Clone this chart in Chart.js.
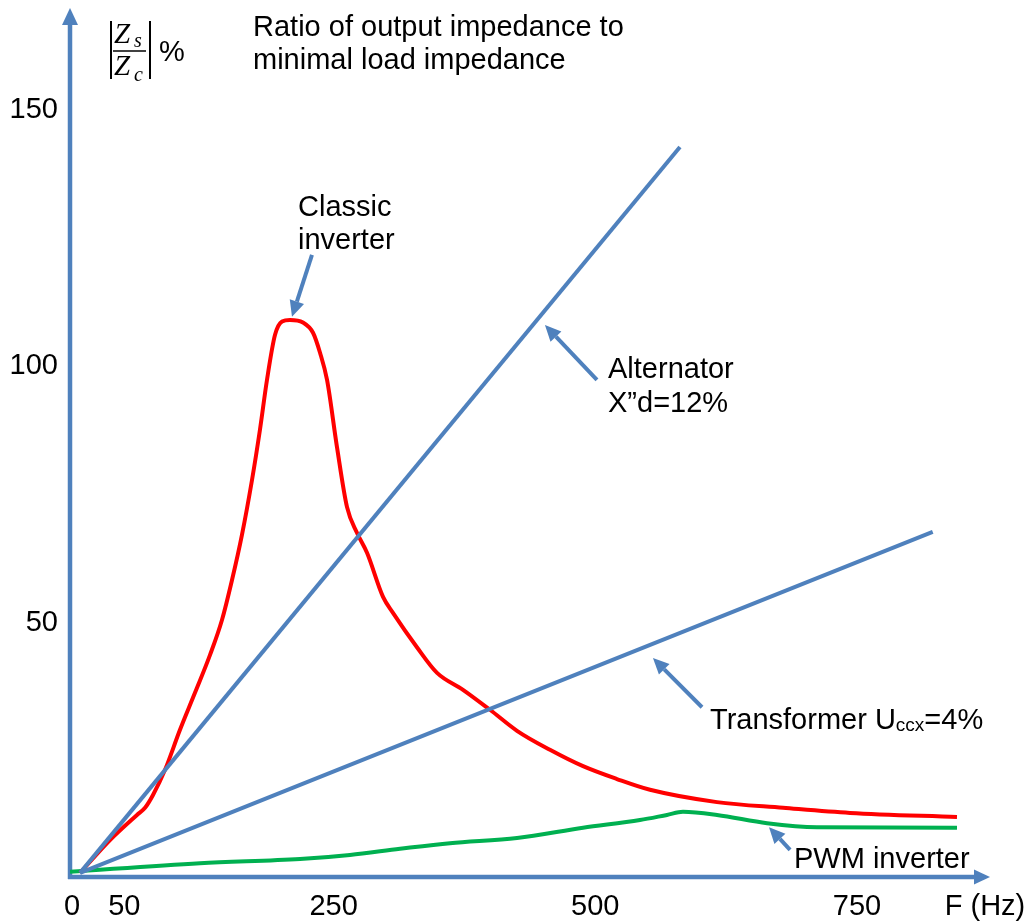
<!DOCTYPE html>
<html>
<head>
<meta charset="utf-8">
<script src="https://cdn.jsdelivr.net/npm/chart.js@4"></script>
<style>
	body { margin: 0; background: #ffffff; }
	#chart { display: block; }
</style>
</head>
<body>
<canvas id="chart" width="1027" height="922"></canvas>
<script>
// frequency (Hz) and |Zs/Zc| (%)
const freqTicks = [0, 50, 250, 500, 750];
const pctTicks = [50, 100, 150];

const classicF = [9.6, 38.2, 64.0, 71.7, 79.3, 90.8, 105.1, 119.4, 133.8, 145.2, 154.8, 164.3, 173.9, 181.5, 188.2, 195.9, 202.6, 210.2, 222.6, 232.2, 238.9, 245.6, 255.1, 264.7, 274.2, 283.8, 299.1, 308.6, 331.5, 350.7, 375.5, 401.3, 427.1, 458.6, 490.2, 522.6, 554.2, 618.2, 681.3, 745.3, 847.5];
const classicPct = [0.8, 7.2, 12.1, 13.5, 16.0, 20.9, 28.7, 35.9, 43.3, 50.1, 57.9, 66.7, 77.4, 87.2, 96.9, 105.7, 108.3, 108.6, 108.1, 106.1, 102.2, 96.9, 83.8, 72.1, 67.1, 63.2, 54.6, 51.5, 44.8, 39.8, 36.5, 32.6, 28.5, 24.8, 21.6, 19.1, 17.0, 14.6, 13.5, 12.5, 11.7];

const pwmF = [0, 124.2, 219.8, 267.5, 315.3, 363.1, 427.1, 490.2, 544.6, 570.4, 585.7, 618.2, 666.0, 713.7, 847.5];
const pwmPct = [1.0, 2.7, 3.5, 4.3, 5.5, 6.6, 7.6, 9.6, 11.1, 12.1, 12.7, 12.1, 10.5, 9.7, 9.6];

const alternatorF = [9.6, 582.8];
const alternatorPct = [0.8, 142.3];

const transformerF = [9.6, 824.3];
const transformerPct = [0.8, 67.3];

const blue = '#4F81BD';
const font = '"Liberation Sans", Arial, sans-serif';

const pts = (xs, ys) => xs.map((x, i) => ({x: x, y: ys[i]}));

// arrows: tail -> tip, in data units
const arrows = [
	{from: [231.2, 121.3], to: [212.1, 109.2]},
	{from: [503.5, 96.9], to: [453.8, 107.6]},
	{from: [603.9, 33.1], to: [557.0, 42.7]},
	{from: [688.0, 5.3], to: [667.9, 9.7]}
];

const drawArrow = (ctx, x1, y1, x2, y2, len, half, width) => {
	const a = Math.atan2(y2 - y1, x2 - x1);
	const bx = x2 - len * Math.cos(a);
	const by = y2 - len * Math.sin(a);
	ctx.lineWidth = width;
	ctx.beginPath();
	ctx.moveTo(x1, y1);
	ctx.lineTo(bx, by);
	ctx.stroke();
	ctx.beginPath();
	ctx.moveTo(x2, y2);
	ctx.lineTo(bx + half * Math.sin(a), by - half * Math.cos(a));
	ctx.lineTo(bx - half * Math.sin(a), by + half * Math.cos(a));
	ctx.closePath();
	ctx.fill();
}

const axesPlugin = {
	id: 'axes',
	beforeDatasetsDraw(chart) {
		const ctx = chart.ctx;
		const xs = chart.scales.x;
		const ys = chart.scales.y;
		const x0 = xs.getPixelForValue(0);
		const y0 = ys.getPixelForValue(0);
		ctx.save();
		ctx.strokeStyle = blue;
		ctx.fillStyle = blue;
		ctx.lineCap = 'butt';
		drawArrow(ctx, x0, y0 + 2, x0, chart.chartArea.top + 3, 17, 8, 4.5);
		drawArrow(ctx, x0 - 2, y0, chart.chartArea.right - 1, y0, 16, 7.5, 4.5);

		// tick labels
		ctx.fillStyle = '#000000';
		ctx.font = '29px ' + font;
		ctx.textAlign = 'center';
		ctx.textBaseline = 'alphabetic';
		freqTicks.forEach(f => ctx.fillText(String(f), xs.getPixelForValue(f) + 2, 915));
		ctx.fillText('F (Hz)', 985, 915);
		ctx.textAlign = 'right';
		pctTicks.forEach(p => ctx.fillText(String(p), 58, ys.getPixelForValue(p) + 10));
		ctx.restore();
	},
	afterDatasetsDraw(chart) {
		const ctx = chart.ctx;
		const xs = chart.scales.x;
		const ys = chart.scales.y;
		ctx.save();
		ctx.strokeStyle = blue;
		ctx.fillStyle = blue;
		arrows.forEach(a => {
			drawArrow(ctx,
				xs.getPixelForValue(a.from[0]), ys.getPixelForValue(a.from[1]),
				xs.getPixelForValue(a.to[0]), ys.getPixelForValue(a.to[1]),
				16, 7.5, 4);
		});

		ctx.fillStyle = '#000000';
		ctx.font = '29px ' + font;
		ctx.textAlign = 'left';
		ctx.textBaseline = 'alphabetic';
		ctx.fillText('Ratio of output impedance to', 253, 36);
		ctx.fillText('minimal load impedance', 253, 69);
		ctx.fillText('Classic', 298, 216);
		ctx.fillText('inverter', 298, 249);
		ctx.fillText('Alternator', 608, 378);
		ctx.fillText('X\u201Dd=12%', 608, 412);
		ctx.fillText('PWM inverter', 794, 868);
		let tx = 710;
		ctx.fillText('Transformer U', tx, 729);
		tx += ctx.measureText('Transformer U').width;
		ctx.font = '19px ' + font;
		ctx.fillText('ccx', tx, 731);
		tx += ctx.measureText('ccx').width;
		ctx.font = '29px ' + font;
		ctx.fillText('=4%', tx, 729);

		// |Zs / Zc| %
		ctx.font = 'italic 29px "Liberation Serif", serif';
		ctx.fillText('Z', 114, 43);
		ctx.fillText('Z', 114, 75);
		ctx.font = 'italic 20px "Liberation Serif", serif';
		ctx.fillText('s', 134, 47);
		ctx.fillText('c', 134, 81);
		ctx.font = '29px ' + font;
		ctx.fillText('%', 159, 61);
		ctx.strokeStyle = '#000000';
		ctx.lineWidth = 1.5;
		ctx.beginPath();
		ctx.moveTo(113, 51);
		ctx.lineTo(146, 51);
		ctx.stroke();
		ctx.lineWidth = 2;
		ctx.beginPath();
		ctx.moveTo(111, 21);
		ctx.lineTo(111, 79);
		ctx.moveTo(150, 21);
		ctx.lineTo(150, 79);
		ctx.stroke();
		ctx.restore();
	}
};

window.onload = () => {
	const ctx = document.getElementById('chart').getContext('2d');
	new Chart(ctx, {
		type: 'line',
		data: {
			datasets: [
				{
					label: 'Alternator',
					data: pts(alternatorF, alternatorPct),
					borderColor: blue,
					borderWidth: 4,
					pointRadius: 0
				},
				{
					label: 'Transformer',
					data: pts(transformerF, transformerPct),
					borderColor: blue,
					borderWidth: 4,
					pointRadius: 0
				},
				{
					label: 'Classic inverter',
					data: pts(classicF, classicPct),
					borderColor: '#FF0000',
					borderWidth: 4,
					pointRadius: 0,
					cubicInterpolationMode: 'monotone'
				},
				{
					label: 'PWM inverter',
					data: pts(pwmF, pwmPct),
					borderColor: '#00B050',
					borderWidth: 4,
					pointRadius: 0,
					cubicInterpolationMode: 'monotone'
				}
			]
		},
		options: {
			responsive: false,
			animation: false,
			layout: {
				padding: {left: 70, right: 36, top: 5, bottom: 45}
			},
			plugins: {
				legend: {display: false},
				tooltip: {enabled: false}
			},
			scales: {
				x: {type: 'linear', min: 0, max: 880, display: false},
				y: {type: 'linear', min: 0, max: 170, display: false}
			}
		},
		plugins: [axesPlugin]
	});
}
</script>
</body>
</html>
